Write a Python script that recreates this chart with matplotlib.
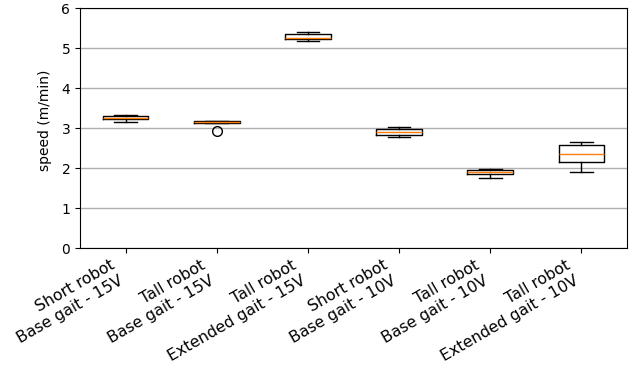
import matplotlib
matplotlib.use("Agg")
import matplotlib.pyplot as plt

labels = ["Short robot\nBase gait - 15V", "Tall robot\nBase gait - 15V",
          "Tall robot\nExtended gait - 15V", "Short robot\nBase gait - 10V",
          "Tall robot\nBase gait - 10V", "Tall robot\nExtended gait - 10V"]
whislo = [3.15, 3.12, 5.17, 2.78, 1.76, 1.90]
q1 = [3.22, 3.12, 5.22, 2.83, 1.85, 2.15]
med = [3.26, 3.15, 5.26, 2.90, 1.90, 2.36]
q3 = [3.29, 3.18, 5.35, 2.98, 1.94, 2.57]
whishi = [3.32, 3.18, 5.39, 3.03, 1.98, 2.65]
fliers = [[], [2.93], [], [], [], []]

stats = []
for i in range(len(labels)):
    stats.append(dict(label=labels[i], whislo=whislo[i], q1=q1[i], med=med[i],
                      q3=q3[i], whishi=whishi[i], fliers=fliers[i]))

fig = plt.figure(figsize=(6.33, 3.75), dpi=100)
ax = fig.add_axes([80/633, 1-248/375, 547/633, 240/375])
ax.bxp(stats, flierprops=dict(markersize=7))
ax.set_ylim(0, 6)
ax.set_yticks(range(0, 7))
ax.yaxis.grid(True, color='#b0b0b0', linewidth=1)
ax.set_axisbelow(True)
ax.set_ylabel("speed (m/min)")
ax.yaxis.set_label_coords(-0.051, 0.533)
plt.setp(ax.get_xticklabels(), rotation=30, ha='right', fontsize=11.3)
fig.savefig("out.png", dpi=100)
